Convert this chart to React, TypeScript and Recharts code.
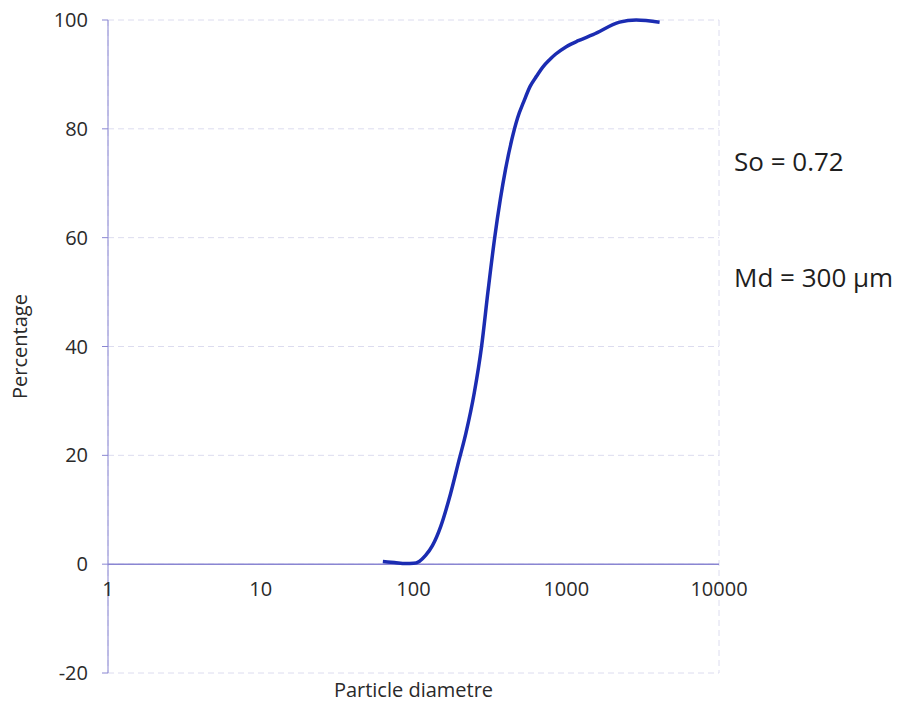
import React from "react";
import {
  LineChart,
  Line,
  XAxis,
  YAxis,
  CartesianGrid,
  ReferenceLine,
  ReferenceDot,
} from "recharts";

// particle size distribution (cumulative %)
const diameters = [63, 75, 89, 100, 109, 120, 133, 151, 175, 199, 220, 250, 279, 307, 340, 370, 400, 440, 480, 527, 580, 640, 700, 778, 850, 1000, 1200, 1496, 2234, 2870, 4085];
const percents = [0.5, 0.3, 0.1, 0.15, 0.5, 1.6, 3.4, 7.0, 13, 19.2, 24, 31.5, 40, 50, 60, 67, 72.5, 78, 82, 85, 87.8, 89.7, 91.3, 92.7, 93.7, 95.1, 96.2, 97.3, 99.6, 100, 99.6];

const xTicks = [1, 10, 100, 1000, 10000];
const yTicks = [-20, 0, 20, 40, 60, 80, 100];
const notes = ["So = 0.72", "Md = 300 µm"];

const data = diameters.map((d, i) => ({ d, pct: percents[i] }));

const AXIS = "#8a86d2";
const GRID = "#dcdcef";
const FONT = "'Open Sans', sans-serif";

export default function App() {
  return (
    <div
      style={{
        position: "absolute",
        left: 0,
        top: 0,
        width: 908,
        height: 706,
        background: "#fff",
        fontFamily: FONT,
      }}
    >
      <LineChart
        width={908}
        height={706}
        data={data}
        margin={{ top: 20, right: 189, left: 0, bottom: 0 }}
      >
        <CartesianGrid stroke={GRID} strokeDasharray="6 4" />
        <XAxis
          dataKey="d"
          type="number"
          scale="log"
          domain={[1, 10000]}
          ticks={xTicks}
          allowDataOverflow
          axisLine={false}
          tickLine={false}
          tick={false}
          height={33}
          label={{
            value: "Particle diametre",
            position: "insideBottom",
            offset: 9,
            fill: "#2a2a2a",
            fontSize: 20,
          }}
        />
        <YAxis
          type="number"
          domain={[-20, 100]}
          ticks={yTicks}
          width={108}
          stroke={AXIS}
          tickSize={6}
          tickMargin={14}
          tick={{ fill: "#2a2a2a", fontSize: 20 }}
          label={{
            value: "Percentage",
            angle: -90,
            position: "insideLeft",
            offset: 20,
            fill: "#2a2a2a",
            fontSize: 20,
            style: { textAnchor: "middle" },
          }}
        />
        <ReferenceLine y={0} stroke={AXIS} strokeWidth={1.5} />
        {xTicks.map((t) => (
          <ReferenceDot
            key={t}
            x={t}
            y={0}
            r={0}
            stroke="none"
            fill="none"
            label={{
              value: String(t),
              position: "bottom",
              offset: 18,
              fill: "#2a2a2a",
              fontSize: 20,
            }}
          />
        ))}
        <Line
          type="monotone"
          dataKey="pct"
          stroke="#1b2cb2"
          strokeWidth={3.5}
          dot={false}
          isAnimationActive={false}
        />
      </LineChart>
      {notes.map((n, i) => (
        <div
          key={n}
          style={{
            position: "absolute",
            left: 734,
            top: 143 + i * 116,
            fontSize: 26,
            color: "#1e1e1e",
            whiteSpace: "nowrap",
          }}
        >
          {n}
        </div>
      ))}
    </div>
  );
}
